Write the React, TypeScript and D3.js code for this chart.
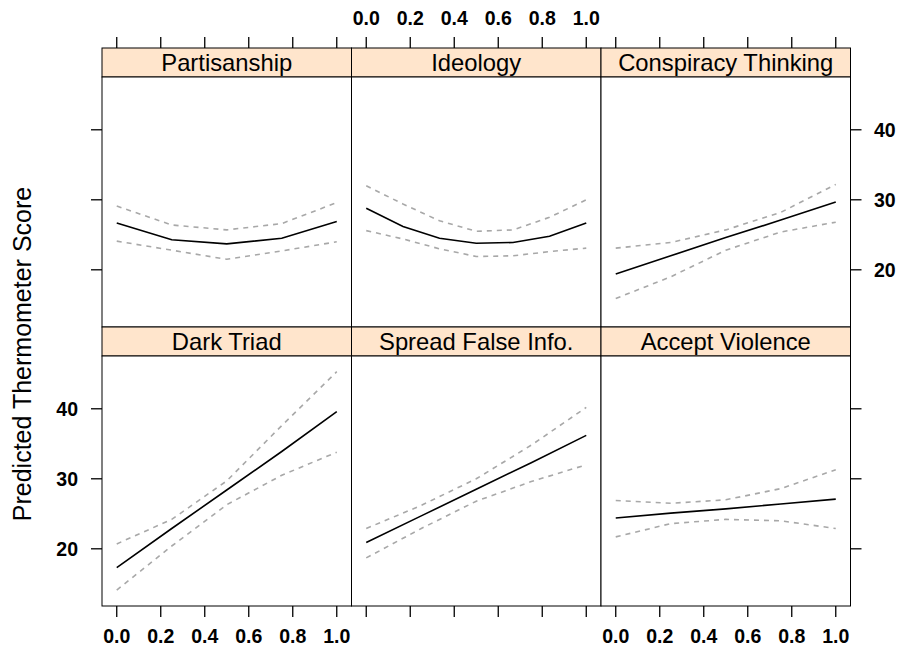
import React from 'react';
import * as d3 from 'd3';

// x grids used by the effect curves
const xs5 = [0, 0.25, 0.5, 0.75, 1];
const xs7 = [0, 0.167, 0.333, 0.5, 0.667, 0.833, 1];

const partisanFit = [26.7, 24.3, 23.7, 24.5, 26.9];
const partisanUpper = [29.1, 26.4, 25.7, 26.6, 29.6];
const partisanLower = [24.1, 22.8, 21.5, 22.7, 24.0];

const ideologyFit = [28.8, 26.2, 24.5, 23.8, 23.9, 24.8, 26.7];
const ideologyUpper = [32.0, 29.4, 27.0, 25.5, 25.7, 27.5, 30.0];
const ideologyLower = [25.6, 24.4, 23.0, 21.9, 22.0, 22.6, 23.1];

const conspiracyFit = [19.4, 22.0, 24.6, 27.1, 29.7];
const conspiracyUpper = [23.1, 23.9, 25.7, 28.2, 32.2];
const conspiracyLower = [15.9, 19.0, 22.8, 25.4, 26.8];

const darkFit = [17.3, 22.9, 28.4, 33.9, 39.6];
const darkUpper = [20.7, 24.2, 29.7, 37.6, 45.3];
const darkLower = [14.1, 20.4, 26.3, 30.5, 33.8];

const spreadFit = [20.9, 24.7, 28.5, 32.3, 36.2];
const spreadUpper = [22.9, 26.2, 30.0, 34.8, 40.2];
const spreadLower = [18.7, 22.9, 26.8, 29.6, 32.0];

const violenceFit = [24.4, 25.1, 25.7, 26.4, 27.1];
const violenceUpper = [26.9, 26.5, 27.0, 28.6, 31.3];
const violenceLower = [21.7, 23.6, 24.2, 24.0, 22.9];

const xTicks = [0, 0.2, 0.4, 0.6, 0.8, 1.0];
const yTicks = [20, 30, 40];

const panels = [
  { name: 'Partisanship', row: 0, col: 0, xs: xs5, fit: partisanFit, upper: partisanUpper, lower: partisanLower },
  { name: 'Ideology', row: 0, col: 1, xs: xs7, fit: ideologyFit, upper: ideologyUpper, lower: ideologyLower },
  { name: 'Conspiracy Thinking', row: 0, col: 2, xs: xs5, fit: conspiracyFit, upper: conspiracyUpper, lower: conspiracyLower },
  { name: 'Dark Triad', row: 1, col: 0, xs: xs5, fit: darkFit, upper: darkUpper, lower: darkLower },
  { name: 'Spread False Info.', row: 1, col: 1, xs: xs5, fit: spreadFit, upper: spreadUpper, lower: spreadLower },
  { name: 'Accept Violence', row: 1, col: 2, xs: xs5, fit: violenceFit, upper: violenceUpper, lower: violenceLower },
];

const left = 102;
const colW = 249.5;
const top = 48;
const stripH = 29;
const panelH = 250;
const rowH = stripH + panelH;
const tickLen = 11;

const tickFont = { fontFamily: 'Arial, "Liberation Sans", sans-serif', fontWeight: 'bold', fontSize: 19.5 };
const labFont = 'Arial, "Liberation Sans", sans-serif';

export default function App() {
  const x = d3.scaleLinear().domain([-0.067, 1.067]).range([0, colW]);
  const y = d3.scaleLinear().domain([11.83, 47.54]).range([panelH, 0]);
  const line = (xs: number[], vs: number[]) =>
    d3.line<number>().x((_, i) => x(xs[i])).y((v) => y(v))(vs) as string;

  const right = left + 3 * colW;
  const bottom = top + 2 * rowH;

  return (
    <svg width={901} height={649} style={{ position: 'absolute', left: 0, top: 0, background: '#fff' }}>
      {panels.map((p) => {
        const px = left + p.col * colW;
        const py = top + p.row * rowH;
        return (
          <g key={p.name} transform={`translate(${px},${py})`}>
            <rect x={0} y={0} width={colW} height={stripH} fill="#FFE5CC" stroke="#000" strokeWidth={1} />
            <text x={colW / 2} y={stripH / 2 + 8.5} textAnchor="middle" fontFamily={labFont} fontSize={23.8} fill="#000">
              {p.name}
            </text>
            <g transform={`translate(0,${stripH})`}>
              <rect x={0} y={0} width={colW} height={panelH} fill="#fff" stroke="#000" strokeWidth={1} />
              <path d={line(p.xs, p.upper)} fill="none" stroke="#a8a8a8" strokeWidth={1.6} strokeDasharray="5,5" />
              <path d={line(p.xs, p.lower)} fill="none" stroke="#a8a8a8" strokeWidth={1.6} strokeDasharray="5,5" />
              <path d={line(p.xs, p.fit)} fill="none" stroke="#000" strokeWidth={1.6} />
            </g>
          </g>
        );
      })}

      {/* top and bottom axes */}
      {[0, 1, 2].map((c) => {
        const px = left + c * colW;
        return (
          <g key={'xa' + c}>
            {xTicks.map((t) => (
              <g key={t}>
                <line x1={px + x(t)} x2={px + x(t)} y1={top} y2={top - tickLen} stroke="#000" strokeWidth={1.3} />
                <line x1={px + x(t)} x2={px + x(t)} y1={bottom} y2={bottom + tickLen} stroke="#000" strokeWidth={1.3} />
                {c === 1 && (
                  <text x={px + x(t)} y={25} textAnchor="middle" {...tickFont}>{t.toFixed(1)}</text>
                )}
                {c !== 1 && (
                  <text x={px + x(t)} y={643} textAnchor="middle" {...tickFont}>{t.toFixed(1)}</text>
                )}
              </g>
            ))}
          </g>
        );
      })}

      {/* left and right axes */}
      {[0, 1].map((r) => {
        const py = top + r * rowH + stripH;
        return (
          <g key={'ya' + r}>
            {yTicks.map((t) => (
              <g key={t}>
                <line x1={left} x2={left - tickLen} y1={py + y(t)} y2={py + y(t)} stroke="#000" strokeWidth={1.3} />
                <line x1={right} x2={right + tickLen} y1={py + y(t)} y2={py + y(t)} stroke="#000" strokeWidth={1.3} />
                {r === 1 && (
                  <text x={78} y={py + y(t) + 7} textAnchor="end" {...tickFont}>{t}</text>
                )}
                {r === 0 && (
                  <text x={874} y={py + y(t) + 7} textAnchor="start" {...tickFont}>{t}</text>
                )}
              </g>
            ))}
          </g>
        );
      })}

      <text
        transform={`translate(31,354) rotate(-90)`}
        textAnchor="middle"
        fontFamily={labFont}
        fontSize={25}
        fill="#000"
      >
        Predicted Thermometer Score
      </text>
    </svg>
  );
}
